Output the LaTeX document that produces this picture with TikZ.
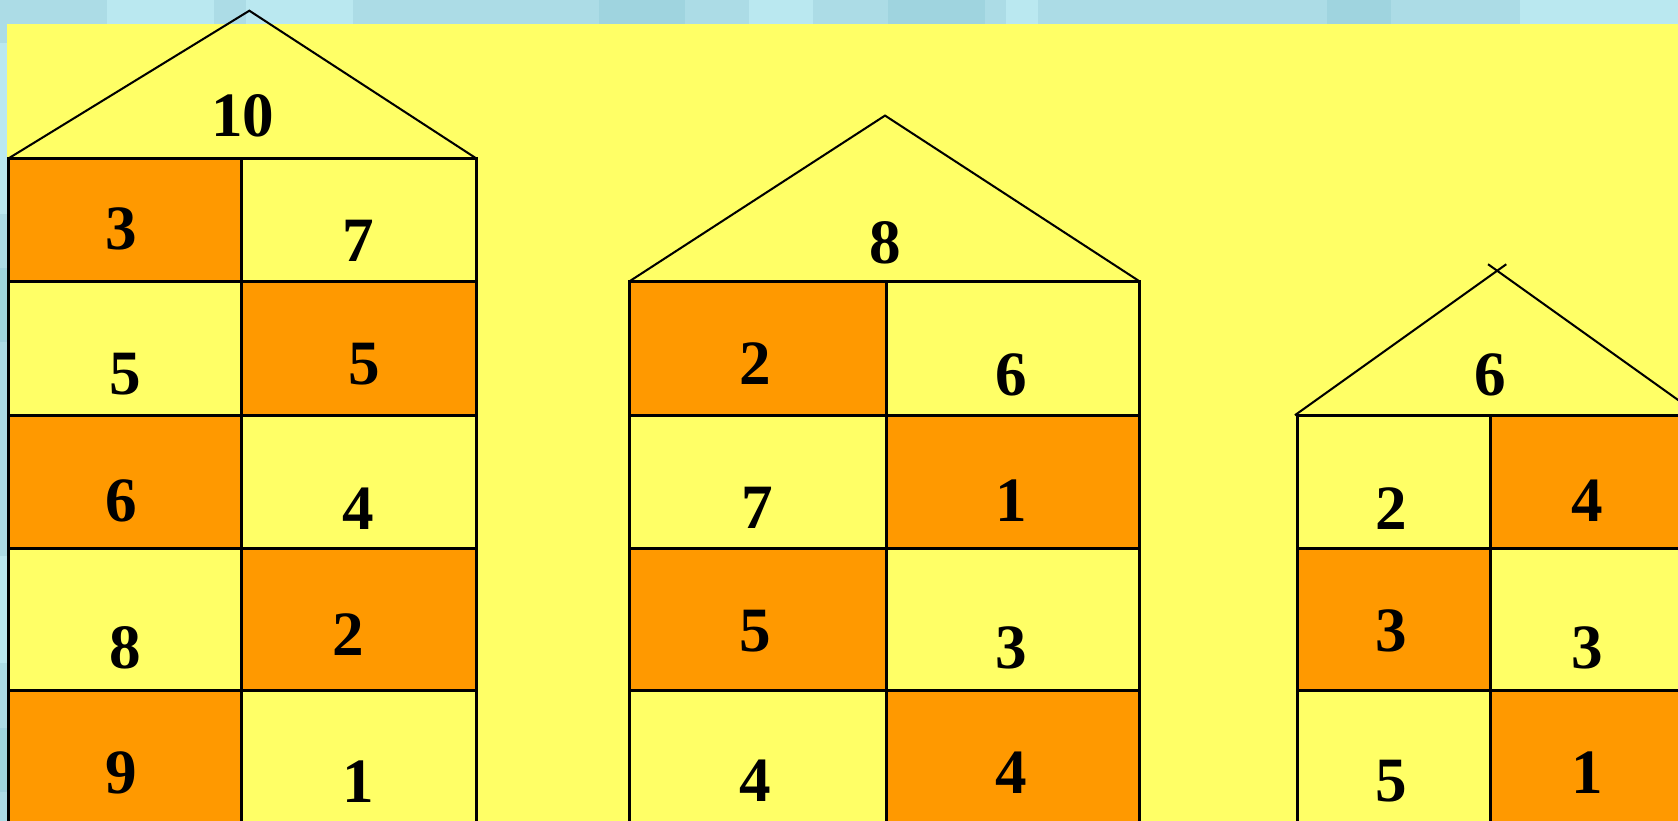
\documentclass[tikz,border=0pt]{standalone}
\usepackage{fontspec}
\setmainfont{Liberation Serif}
\usetikzlibrary{calc}
\definecolor{sky}{RGB}{172,220,230}
\definecolor{skydark}{RGB}{130,195,208}
\definecolor{skylight}{RGB}{196,240,248}
\definecolor{paper}{RGB}{255,255,102}
\definecolor{hot}{RGB}{255,153,0}
\tikzset{
  wall/.style={line width=2.8pt, line cap=rect},
  roof/.style={line width=1.9pt},
  num/.style={font=\fontsize{59}{61}\selectfont\bfseries, inner sep=0pt},
  hotcell/.style={fill=hot},
  streak/.style={fill=skydark, opacity=0.3},
  glow/.style={fill=skylight, opacity=0.6},
}
\begin{document}
\begin{tikzpicture}[x=1pt,y=-1pt]
\useasboundingbox (0,0) rectangle (1568,767);
% sky background
\fill[sky] (0,0) rectangle (1568,767);
\fill[glow] (100,0) rectangle (200,22);
\fill[glow] (230,0) rectangle (330,22);
\fill[streak] (560,0) rectangle (640,22);
\fill[glow] (700,0) rectangle (760,22);
\fill[streak] (830,0) rectangle (920,22);
\fill[glow] (940,0) rectangle (970,22);
\fill[streak] (1240,0) rectangle (1300,22);
\fill[glow] (1420,0) rectangle (1568,22);
\fill[glow] (0,40) rectangle (7,200);
\fill[streak] (0,250) rectangle (7,320);
\fill[glow] (0,520) rectangle (7,620);
\fill[streak] (0,680) rectangle (7,740);
\fill[paper] (7,22) rectangle (1568,767);

% ---------- House 1 ----------
\fill[hotcell] (8,148) rectangle (226,263);
\fill[hotcell] (226,263) rectangle (445,388);
\fill[hotcell] (8,388) rectangle (226,513);
\fill[hotcell] (226,513) rectangle (445,645);
\fill[hotcell] (8,645) rectangle (226,780);
\draw[roof] (8,148) -- (233,10) -- (445,148);
\foreach \y in {148,263,388,513,645} \draw[wall] (8,\y) -- (445,\y);
\foreach \x in {8,226,445} \draw[wall] (\x,148) -- (\x,780);
\node[num] (h1top) at (227,108) {10};
\node[num] (h1a) at (113,214) {3};
\node[num] (h1b) at (335,225) {7};
\node[num] (h1c) at (117,350) {5};
\node[num] (h1d) at (340,340) {5};
\node[num] (h1e) at (113,468) {6};
\node[num] (h1f) at (335,475) {4};
\node[num] (h1g) at (117,605) {8};
\node[num] (h1h) at (325,593) {2};
\node[num] (h1i) at (113,722) {9};
\node[num] (h1j) at (335,730) {1};

% ---------- House 2 ----------
\fill[hotcell] (588,263) rectangle (828,388);
\fill[hotcell] (828,388) rectangle (1065,513);
\fill[hotcell] (588,513) rectangle (828,645);
\fill[hotcell] (828,645) rectangle (1065,780);
\draw[roof] (588,263) -- (827,108) -- (1065,263);
\foreach \y in {263,388,513,645} \draw[wall] (588,\y) -- (1065,\y);
\foreach \x in {588,828,1065} \draw[wall] (\x,263) -- (\x,780);
\node[num] (h2top) at (827,227) {8};
\node[num] (h2a) at (706,340) {2};
\node[num] (h2b) at (945,350) {6};
\node[num] (h2c) at (708,475) {7};
\node[num] (h2d) at (945,468) {1};
\node[num] (h2e) at (706,590) {5};
\node[num] (h2f) at (945,605) {3};
\node[num] (h2g) at (706,730) {4};
\node[num] (h2h) at (945,722) {4};

% ---------- House 3 ----------
\fill[hotcell] (1393,388) rectangle (1590,513);
\fill[hotcell] (1212,513) rectangle (1393,645);
\fill[hotcell] (1393,645) rectangle (1590,780);
\draw[roof] (1210,388) -- ($(1210,388)!1.045!(1399,253)$);
\draw[roof] (1588,388) -- ($(1588,388)!1.045!(1399,253)$);
\foreach \y in {388,513,645} \draw[wall] (1212,\y) -- (1590,\y);
\foreach \x in {1212,1393} \draw[wall] (\x,388) -- (\x,780);
\node[num] (h3top) at (1393,350) {6};
\node[num] (h3a) at (1300,475) {2};
\node[num] (h3b) at (1483,468) {4};
\node[num] (h3c) at (1300,590) {3};
\node[num] (h3d) at (1483,605) {3};
\node[num] (h3e) at (1300,730) {5};
\node[num] (h3f) at (1483,722) {1};
\end{tikzpicture}
\end{document}
